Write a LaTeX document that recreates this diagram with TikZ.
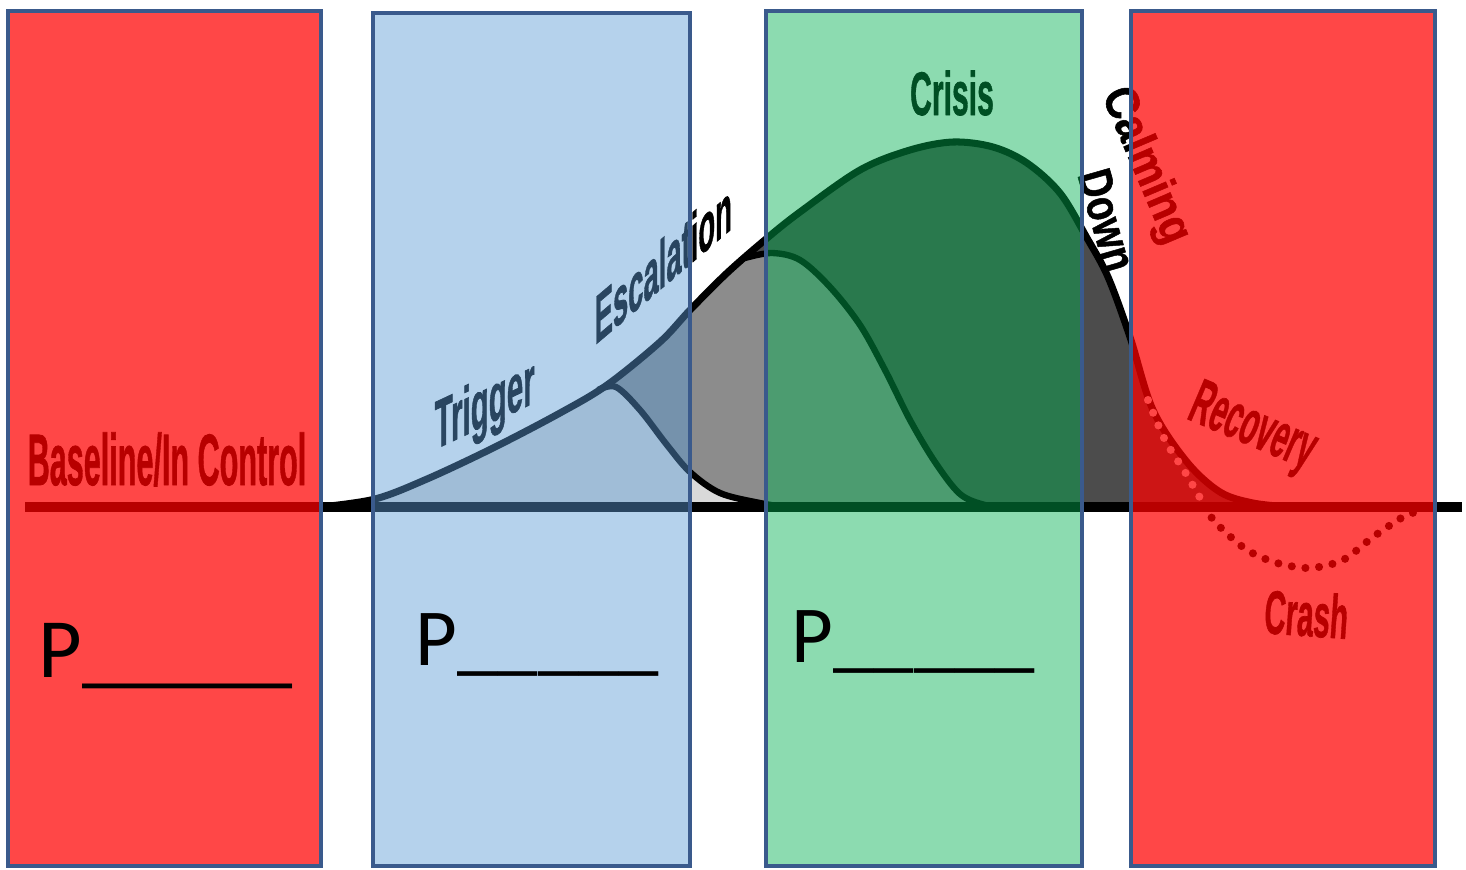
\documentclass[tikz,border=0pt]{standalone}
\usepackage{fontspec}
\usepackage{graphicx}
\newfontfamily\phasefont[FakeBold=1.2]{Liberation Sans Bold}
\newfontfamily\blankfont{Carlito}
\newcommand{\narrowtext}[2]{\scalebox{#1}[1]{#2}}
\definecolor{redband}{RGB}{255,0,0}
\definecolor{blueband}{RGB}{91,155,213}
\definecolor{greenband}{RGB}{0,176,80}
\definecolor{bandedge}{RGB}{58,90,140}
\tikzset{
  phase/.style={inner sep=0pt, text=black, font=\phasefont\fontsize{#1}{#1}\selectfont},
  blank/.style={inner sep=0pt, anchor=base west, font=\blankfont\fontsize{#1}{#1}\selectfont},
  band/.style={draw=bandedge, line width=1.1pt},
  hump/.style={line width=1.8pt, line join=round},
  crashdots/.style={line width=2.3pt, line cap=round, dash pattern=on 0pt off 3.9pt},
}
\begin{document}
\begin{tikzpicture}[x=0.01cm, y=-0.01cm]
\useasboundingbox (0,0) rectangle (1466,869);

\fill[black!70] plot[smooth, tension=0.55] coordinates {(320,507) (375,499) (427,479) (493,448) (560,413) (607,385) (660,342) (690,310) (727,273) (766,239) (800,212) (860,170) (910,150) (953,142) (993,147) (1027,163) (1060,193) (1087,238) (1108,277) (1130,337) (1153,410) (1187,462) (1220,492) (1253,503) (1290,507)} -- cycle;
\fill[black!45] plot[smooth, tension=0.55] coordinates {(320,507) (375,499) (427,479) (493,448) (560,413) (607,385) (660,342) (690,310) (727,273) (745,258) (772,253) (800,260) (830,287) (860,325) (885,370) (910,420) (935,462) (960,494) (985,505) (1005,507)} -- cycle;
\fill[black!15] plot[smooth, tension=0.55] coordinates {(320,507) (375,499) (427,479) (493,448) (560,413) (598,390) (616,387) (640,410) (667,445) (690,472) (720,493) (760,503) (785,507)} -- cycle;

\draw[hump] plot[smooth, tension=0.55] coordinates {(598,390) (616,387) (640,410) (667,445) (690,472) (720,493) (760,503) (785,507)};
\draw[hump] plot[smooth, tension=0.55] coordinates {(745,258) (772,253) (800,260) (830,287) (860,325) (885,370) (910,420) (935,462) (960,494) (985,505) (1005,507)};
\draw[hump, line width=2pt] plot[smooth, tension=0.55] coordinates {(320,507) (375,499) (427,479) (493,448) (560,413) (607,385) (660,342) (690,310) (727,273) (766,239) (800,212) (860,170) (910,150) (953,142) (993,147) (1027,163) (1060,193) (1087,238) (1108,277) (1130,337) (1153,410) (1187,462) (1220,492) (1253,503) (1290,507)};

\draw[crashdots, white] plot[smooth] coordinates {(1148,400) (1165,440) (1185,472) (1203,503)};
\draw[crashdots] plot[smooth] coordinates {(1203,507) (1220,527) (1247,550) (1277,563) (1310,568) (1343,560) (1373,537) (1403,517) (1422,510)};
\draw[line width=2.6pt] (25,507) -- (1462,507);

\node[phase=20.7, anchor=base] (baseline) at (167,485) {\narrowtext{0.42}{Baseline/In Control}};
\node[phase=19.5, anchor=base west, yslant=0.47] (trigger) at (434,450) {\narrowtext{0.43}{Trigger}};
\node[phase=19.5, anchor=base west, yslant=0.85] (escalation) at (594,346) {\narrowtext{0.40}{Escalation}};
\node[phase=17.5, anchor=base] (crisis) at (952,115) {\narrowtext{0.49}{Crisis}};
\node[phase=13.5, rotate=-67] (calming) at (1145,166) {\narrowtext{0.88}{Calming}};
\node[phase=13.5, rotate=-74] (down) at (1107,220) {\narrowtext{0.8}{Down}};
\node[phase=18, anchor=base west, rotate=-23] (recovery) at (1185,418) {\narrowtext{0.46}{Recovery}};
\node[phase=17.5, anchor=base, rotate=-4] (crash) at (1305,636) {\narrowtext{0.48}{Crash}};

\filldraw[band, fill=redband, fill opacity=.72] (8,11) rectangle (321,866);
\filldraw[band, fill=blueband, fill opacity=.45] (373,13) rectangle (690,866);
\filldraw[band, fill=greenband, fill opacity=.45] (766,11) rectangle (1082,866);
\filldraw[band, fill=redband, fill opacity=.72] (1131,11) rectangle (1435,866);

\node[blank=24] (pbaseline) at (38,677) {P\_\_\_\_\_};
\node[blank=23] (ptrigger) at (415,665) {P\_\_\_\_\_};
\node[blank=23] (pcrisis) at (791,662) {P\_\_\_\_\_};
\end{tikzpicture}
\end{document}
